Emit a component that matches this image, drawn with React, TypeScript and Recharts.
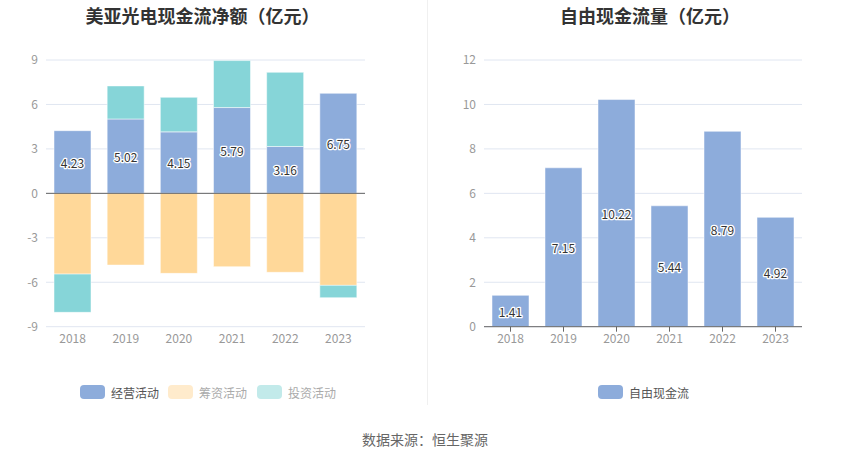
import { BarChart, Bar, XAxis, YAxis, CartesianGrid, ReferenceLine, LabelList } from "recharts";

const years = ["2018", "2019", "2020", "2021", "2022", "2023"];
const operating = [4.23, 5.02, 4.15, 5.79, 3.16, 6.75];
const financing = [-5.45, -4.84, -5.4, -4.95, -5.33, -6.21];
const investing = [-2.58, 2.23, 2.33, 3.17, 5.01, -0.83];
const freeCashFlow = [1.41, 7.15, 10.22, 5.44, 8.79, 4.92];
const leftTicks = [-9, -6, -3, 0, 3, 6, 9];
const rightTicks = [0, 2, 4, 6, 8, 10, 12];

const BLUE = "#8dacdb";
const YELLOW = "#ffd899";
const CYAN = "#86d5d8";
const FONT = "'Noto Sans CJK SC', 'Noto Sans', sans-serif";

const flowData = years.map((year, i) => ({
  year,
  operating: operating[i],
  financing: financing[i],
  investing: investing[i],
}));

const fcfData = years.map((year, i) => ({ year, fcf: freeCashFlow[i] }));

const tickStyle = { fontSize: 12, fill: "#999", fontFamily: FONT };

function ValueLabel(props: any) {
  const { x, y, width, height, value } = props;
  return (
    <text
      x={x + width / 2}
      y={y + height / 2}
      textAnchor="middle"
      dominantBaseline="central"
      fontSize={12}
      fontFamily={FONT}
      fill="#333"
      stroke="#fff"
      strokeWidth={2.5}
      strokeLinejoin="round"
      paintOrder="stroke"
    >
      {Number(value).toFixed(2)}
    </text>
  );
}

function LegendItem({ color, label, textColor, left }: { color: string; label: string; textColor: string; left: number }) {
  return (
    <div style={{ position: "absolute", left, top: 383, height: 18, display: "flex", alignItems: "center", fontSize: 12, fontFamily: FONT, color: textColor, whiteSpace: "nowrap" }}>
      <span style={{ display: "inline-block", width: 25, height: 14, borderRadius: 4, background: color, marginRight: 6 }} />
      {label}
    </div>
  );
}

export default function App() {
  return (
    <div style={{ position: "absolute", left: 0, top: 0, width: 850, height: 459, background: "#fff", fontFamily: FONT }}>
      <div style={{ position: "absolute", left: 0, width: 405, top: 2, textAlign: "center", fontSize: 18, fontWeight: "bold", color: "#333" }}>
        美亚光电现金流净额（亿元）
      </div>
      <div style={{ position: "absolute", left: 440, width: 420, top: 2, textAlign: "center", fontSize: 18, fontWeight: "bold", color: "#333" }}>
        自由现金流量（亿元）
      </div>
      <div style={{ position: "absolute", left: 427, top: 0, width: 1, height: 405, background: "#f0f0f0" }} />

      <div style={{ position: "absolute", left: 0, top: 0 }}>
        <BarChart
          width={420}
          height={400}
          data={flowData}
          stackOffset="sign"
          barSize={37}
          margin={{ top: 60, right: 55, bottom: 43.3, left: 6 }}
        >
          <CartesianGrid vertical={false} stroke="#e0e6f1" />
          <XAxis dataKey="year" axisLine={false} tickLine={false} tick={tickStyle} height={30} />
          <YAxis domain={[-9, 9]} ticks={leftTicks} axisLine={false} tickLine={false} tick={tickStyle} width={40} />
          <Bar dataKey="operating" stackId="a" fill={BLUE} stroke="#fff" strokeWidth={0.5} isAnimationActive={false}>
            <LabelList dataKey="operating" content={ValueLabel} />
          </Bar>
          <Bar dataKey="financing" stackId="a" fill={YELLOW} stroke="#fff" strokeWidth={0.5} isAnimationActive={false} />
          <Bar dataKey="investing" stackId="a" fill={CYAN} stroke="#fff" strokeWidth={0.5} isAnimationActive={false} />
          <ReferenceLine y={0} stroke="#666" />
        </BarChart>
      </div>

      <div style={{ position: "absolute", left: 430, top: 0 }}>
        <BarChart
          width={420}
          height={400}
          data={fcfData}
          barSize={37}
          margin={{ top: 60, right: 48, bottom: 43.3, left: 14 }}
        >
          <CartesianGrid vertical={false} stroke="#e0e6f1" />
          <XAxis dataKey="year" axisLine={{ stroke: "#666" }} tickLine={{ stroke: "#666" }} tickSize={5} tickMargin={3} tick={tickStyle} height={30} />
          <YAxis domain={[0, 12]} ticks={rightTicks} axisLine={false} tickLine={false} tick={tickStyle} width={40} />
          <Bar dataKey="fcf" fill={BLUE} stroke="#fff" strokeWidth={0.5} isAnimationActive={false}>
            <LabelList dataKey="fcf" content={ValueLabel} />
          </Bar>
        </BarChart>
      </div>

      <LegendItem color={BLUE} label="经营活动" textColor="#555" left={80} />
      <LegendItem color="#ffebcc" label="筹资活动" textColor="#aaa" left={168} />
      <LegendItem color="#c2eaea" label="投资活动" textColor="#aaa" left={257} />
      <LegendItem color={BLUE} label="自由现金流" textColor="#555" left={598} />

      <div style={{ position: "absolute", left: 0, width: 850, top: 429, textAlign: "center", fontSize: 14, color: "#666" }}>
        数据来源：恒生聚源
      </div>
    </div>
  );
}
